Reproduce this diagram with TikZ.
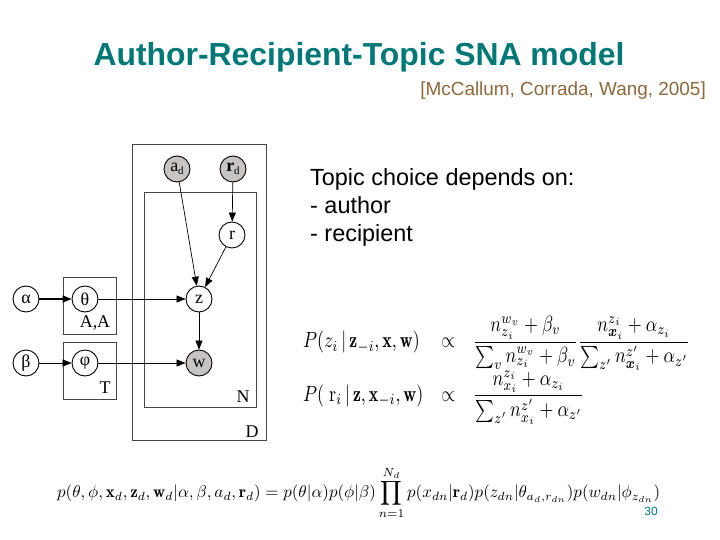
\documentclass[tikz,border=0pt]{standalone}
\usepackage{amsmath,amssymb}
\usepackage{fontspec}
\setsansfont{Liberation Sans}
\newfontfamily\gmfont{Liberation Serif}
\usepackage{tikz}
\usetikzlibrary{arrows.meta, positioning}

\definecolor{titleteal}{RGB}{0,120,120}
\definecolor{citebrown}{RGB}{140,104,60}
\definecolor{obsgray}{RGB}{200,196,196}
\definecolor{plategray}{RGB}{70,70,70}

\begin{document}
\begin{tikzpicture}[
    x=1bp, y=-1bp,
    var/.style={circle, draw, line width=0.9pt, minimum size=26bp, inner sep=0pt, fill=white, font=\gmfont\fontsize{18}{18}\selectfont},
    obs/.style={var, fill=obsgray},
    plate/.style={draw=plategray, line width=0.9pt},
    platelabel/.style={inner sep=0pt, font=\gmfont\fontsize{18}{18}\selectfont},
    edge/.style={-{Triangle[length=9bp, width=7bp]}, line width=0.7pt},
]
\useasboundingbox (0,0) rectangle (720,540);

% plates
\draw[plate] (132,144) rectangle (266,440);
\draw[plate] (144,192) rectangle (256,407);
\draw[plate] (63,277) rectangle (116,334);
\draw[plate] (63,342) rectangle (116,399);
\node[platelabel] (lblAA) at (95,323) {A,A};
\node[platelabel] (lblT) at (105,388) {T};
\node[platelabel] (lblN) at (243,397) {N};
\node[platelabel] (lblD) at (252,432) {D};

% variables
\node[var] (alpha) at (26,299) {α};
\node[var] (theta) at (85,299) {θ};
\node[var] (beta) at (26,363) {β};
\node[var] (phi) at (85,363) {φ};
\node[obs] (ad) at (177,169) {a\raisebox{-0.35ex}{\fontsize{11}{11}\selectfont d}};
\node[obs] (rd) at (233,169) {\textbf{r}\raisebox{-0.35ex}{\fontsize{11}{11}\selectfont d}};
\node[var] (r) at (232,235) {r};
\node[var] (z) at (199,299) {z};
\node[obs] (w) at (199,363) {w};

\draw[edge, line width=1.4pt] (alpha) -- (theta);
\draw[edge] (theta) -- (z);
\draw[edge] (beta) -- (phi);
\draw[edge] (phi) -- (w);
\draw[edge] (ad) -- (z);
\draw[edge] (rd) -- (r);
\draw[edge] (r) -- (z);
\draw[edge] (z) -- (w);

% texts
\node[text=titleteal, font=\sffamily\bfseries\fontsize{32}{32}\selectfont] (title) at (359,57) {Author-Recipient-Topic SNA model};
\node[anchor=east, inner sep=0pt, text=citebrown, font=\sffamily\fontsize{19}{19}\selectfont] (cite) at (706,91) {[McCallum, Corrada, Wang, 2005]};
\node[anchor=base west, inner sep=0pt, align=left, font=\sffamily\fontsize{23.5}{28.5}\selectfont] (choice) at (310,242) {Topic choice depends on:\\- author\\- recipient};

\node[anchor=north west, inner sep=0pt] (gibbs) at (303,316) {\resizebox*{387bp}{108bp}{$\begin{array}{@{}l@{\quad}c@{\quad}l@{}}
  P(z_i\,|\,\mathbf{z}_{-i},\mathbf{x},\mathbf{w}) & \propto &
  \dfrac{n_{z_i}^{w_v}+\beta_v}{\sum_v n_{z_i}^{w_v}+\beta_v}\dfrac{n_{\boldsymbol{x}_i}^{z_i}+\alpha_{z_i}}{\sum_{z'} n_{\boldsymbol{x}_i}^{z'}+\alpha_{z'}} \\[5pt]
  P(\;\mathrm{r}_i\,|\,\mathbf{z},\mathbf{x}_{-i},\mathbf{w}) & \propto &
  \dfrac{n_{x_i}^{z_i}+\alpha_{z_i}}{\sum_{z'} n_{x_i}^{z'}+\alpha_{z'}}
\end{array}$}};

\node[anchor=west, inner sep=0pt] (joint) at (57,493) {\resizebox{603bp}{!}{$\displaystyle p(\theta,\phi,\mathbf{x}_d,\mathbf{z}_d,\mathbf{w}_d|\alpha,\beta,a_d,\mathbf{r}_d)=p(\theta|\alpha)p(\phi|\beta)\prod_{n=1}^{N_d}p(x_{dn}|\mathbf{r}_d)p(z_{dn}|\theta_{a_d,r_{dn}})p(w_{dn}|\phi_{z_{dn}})$}};

\node[text=titleteal, font=\sffamily\fontsize{12}{12}\selectfont] (pagenum) at (651,511) {30};

\end{tikzpicture}
\end{document}
